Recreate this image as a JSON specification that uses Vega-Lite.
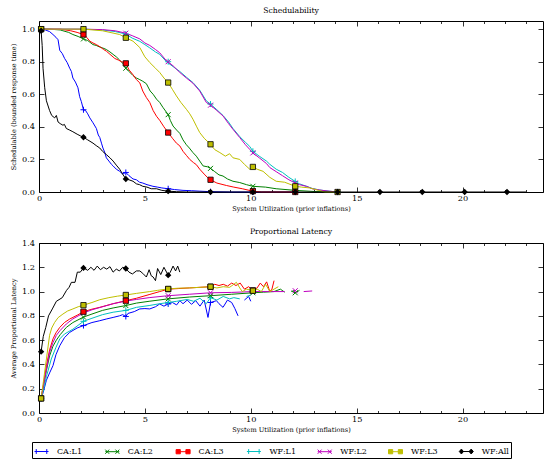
{
"$schema": "https://vega.github.io/schema/vega-lite/v6.json",
"padding": {"left": 9, "top": 6, "right": 0, "bottom": 0},
"spacing": 14,
"config": {
 "font": "DejaVu Serif",
 "view": {"stroke": "black", "strokeWidth": 1},
 "axis": {"labelFont": "DejaVu Serif", "labelFontSize": 8.2, "labelColor": "black", "titleFont": "DejaVu Serif", "titleFontSize": 6.6, "titleFontWeight": "normal", "titleColor": "black", "domain": false, "grid": false, "tickColor": "black", "tickWidth": 0.8},
 "title": {"font": "DejaVu Serif", "fontSize": 7.7, "fontWeight": "normal", "color": "black", "offset": 6, "anchor": "middle"},
 "legend": {"orient": "none", "legendX": -7, "legendY": 421, "direction": "horizontal", "columns": 7, "gridAlign": "all", "columnPadding": 17.8, "padding": 2, "strokeColor": "black", "labelFont": "DejaVu Serif", "labelFontSize": 8, "labelColor": "black", "symbolSize": 196, "symbolStrokeWidth": 1, "labelOffset": 8, "symbolFillColor": "transparent", "symbolOpacity": 1}
},
"datasets": {
 "sl": [
  {"s":"CA:L1","x":0.1,"y":1.0},{"s":"CA:L1","x":0.3,"y":0.995},{"s":"CA:L1","x":0.5,"y":0.985},{"s":"CA:L1","x":0.66,"y":0.967},{"s":"CA:L1","x":0.8,"y":0.95},{"s":"CA:L1","x":0.9,"y":0.935},{"s":"CA:L1","x":0.98,"y":0.87},{"s":"CA:L1","x":1.1,"y":0.85},{"s":"CA:L1","x":1.21,"y":0.82},{"s":"CA:L1","x":1.33,"y":0.795},{"s":"CA:L1","x":1.45,"y":0.76},{"s":"CA:L1","x":1.53,"y":0.74},{"s":"CA:L1","x":1.6,"y":0.7},{"s":"CA:L1","x":1.72,"y":0.675},{"s":"CA:L1","x":1.84,"y":0.64},{"s":"CA:L1","x":1.92,"y":0.585},{"s":"CA:L1","x":2.0,"y":0.555},{"s":"CA:L1","x":2.1,"y":0.505},{"s":"CA:L1","x":2.2,"y":0.5},{"s":"CA:L1","x":2.3,"y":0.48},{"s":"CA:L1","x":2.4,"y":0.455},{"s":"CA:L1","x":2.55,"y":0.425},{"s":"CA:L1","x":2.71,"y":0.39},{"s":"CA:L1","x":2.8,"y":0.35},{"s":"CA:L1","x":2.87,"y":0.335},{"s":"CA:L1","x":2.95,"y":0.3},{"s":"CA:L1","x":3.02,"y":0.27},{"s":"CA:L1","x":3.1,"y":0.245},{"s":"CA:L1","x":3.18,"y":0.21},{"s":"CA:L1","x":3.3,"y":0.19},{"s":"CA:L1","x":3.42,"y":0.17},{"s":"CA:L1","x":3.5,"y":0.16},{"s":"CA:L1","x":3.65,"y":0.14},{"s":"CA:L1","x":3.81,"y":0.127},{"s":"CA:L1","x":3.95,"y":0.11},{"s":"CA:L1","x":4.1,"y":0.12},{"s":"CA:L1","x":4.25,"y":0.1},{"s":"CA:L1","x":4.44,"y":0.08},{"s":"CA:L1","x":4.6,"y":0.075},{"s":"CA:L1","x":4.75,"y":0.06},{"s":"CA:L1","x":4.9,"y":0.055},{"s":"CA:L1","x":5.1,"y":0.045},{"s":"CA:L1","x":5.38,"y":0.035},{"s":"CA:L1","x":5.6,"y":0.03},{"s":"CA:L1","x":5.8,"y":0.025},{"s":"CA:L1","x":6.1,"y":0.02},{"s":"CA:L1","x":6.4,"y":0.015},{"s":"CA:L1","x":6.8,"y":0.01},{"s":"CA:L1","x":7.2,"y":0.008},{"s":"CA:L1","x":7.6,"y":0.005},{"s":"CA:L1","x":8.1,"y":0.002},{"s":"CA:L1","x":9.0,"y":0},{"s":"CA:L1","x":12.1,"y":0},
  {"s":"CA:L2","x":0.1,"y":1.0},{"s":"CA:L2","x":0.5,"y":1.0},{"s":"CA:L2","x":1.0,"y":0.995},{"s":"CA:L2","x":1.13,"y":0.99},{"s":"CA:L2","x":1.4,"y":0.98},{"s":"CA:L2","x":1.6,"y":0.967},{"s":"CA:L2","x":1.85,"y":0.955},{"s":"CA:L2","x":2.1,"y":0.94},{"s":"CA:L2","x":2.3,"y":0.93},{"s":"CA:L2","x":2.55,"y":0.905},{"s":"CA:L2","x":2.7,"y":0.9},{"s":"CA:L2","x":2.87,"y":0.89},{"s":"CA:L2","x":3.0,"y":0.885},{"s":"CA:L2","x":3.18,"y":0.875},{"s":"CA:L2","x":3.35,"y":0.86},{"s":"CA:L2","x":3.5,"y":0.845},{"s":"CA:L2","x":3.65,"y":0.83},{"s":"CA:L2","x":3.81,"y":0.81},{"s":"CA:L2","x":3.95,"y":0.79},{"s":"CA:L2","x":4.1,"y":0.76},{"s":"CA:L2","x":4.25,"y":0.74},{"s":"CA:L2","x":4.44,"y":0.715},{"s":"CA:L2","x":4.6,"y":0.7},{"s":"CA:L2","x":4.76,"y":0.69},{"s":"CA:L2","x":4.9,"y":0.68},{"s":"CA:L2","x":5.07,"y":0.665},{"s":"CA:L2","x":5.25,"y":0.62},{"s":"CA:L2","x":5.39,"y":0.6},{"s":"CA:L2","x":5.55,"y":0.57},{"s":"CA:L2","x":5.7,"y":0.55},{"s":"CA:L2","x":5.85,"y":0.52},{"s":"CA:L2","x":6.1,"y":0.475},{"s":"CA:L2","x":6.2,"y":0.44},{"s":"CA:L2","x":6.33,"y":0.405},{"s":"CA:L2","x":6.5,"y":0.38},{"s":"CA:L2","x":6.65,"y":0.36},{"s":"CA:L2","x":6.8,"y":0.32},{"s":"CA:L2","x":6.96,"y":0.29},{"s":"CA:L2","x":7.1,"y":0.27},{"s":"CA:L2","x":7.27,"y":0.242},{"s":"CA:L2","x":7.43,"y":0.22},{"s":"CA:L2","x":7.59,"y":0.19},{"s":"CA:L2","x":7.75,"y":0.16},{"s":"CA:L2","x":7.95,"y":0.155},{"s":"CA:L2","x":8.1,"y":0.145},{"s":"CA:L2","x":8.3,"y":0.125},{"s":"CA:L2","x":8.5,"y":0.105},{"s":"CA:L2","x":8.69,"y":0.098},{"s":"CA:L2","x":8.9,"y":0.08},{"s":"CA:L2","x":9.16,"y":0.066},{"s":"CA:L2","x":9.48,"y":0.058},{"s":"CA:L2","x":9.8,"y":0.045},{"s":"CA:L2","x":10.1,"y":0.035},{"s":"CA:L2","x":10.7,"y":0.03},{"s":"CA:L2","x":11.2,"y":0.02},{"s":"CA:L2","x":12.1,"y":0.01},{"s":"CA:L2","x":13.0,"y":0.003},{"s":"CA:L2","x":14.1,"y":0},
  {"s":"CA:L3","x":0.1,"y":1.0},{"s":"CA:L3","x":1.0,"y":1.0},{"s":"CA:L3","x":1.5,"y":0.99},{"s":"CA:L3","x":1.8,"y":0.98},{"s":"CA:L3","x":2.1,"y":0.967},{"s":"CA:L3","x":2.25,"y":0.95},{"s":"CA:L3","x":2.4,"y":0.926},{"s":"CA:L3","x":2.55,"y":0.915},{"s":"CA:L3","x":2.71,"y":0.905},{"s":"CA:L3","x":2.9,"y":0.89},{"s":"CA:L3","x":3.05,"y":0.875},{"s":"CA:L3","x":3.18,"y":0.865},{"s":"CA:L3","x":3.4,"y":0.84},{"s":"CA:L3","x":3.58,"y":0.82},{"s":"CA:L3","x":3.75,"y":0.81},{"s":"CA:L3","x":3.9,"y":0.8},{"s":"CA:L3","x":4.1,"y":0.79},{"s":"CA:L3","x":4.25,"y":0.75},{"s":"CA:L3","x":4.44,"y":0.72},{"s":"CA:L3","x":4.6,"y":0.69},{"s":"CA:L3","x":4.76,"y":0.67},{"s":"CA:L3","x":4.9,"y":0.62},{"s":"CA:L3","x":5.07,"y":0.58},{"s":"CA:L3","x":5.23,"y":0.55},{"s":"CA:L3","x":5.39,"y":0.5},{"s":"CA:L3","x":5.55,"y":0.465},{"s":"CA:L3","x":5.7,"y":0.44},{"s":"CA:L3","x":5.9,"y":0.4},{"s":"CA:L3","x":6.1,"y":0.365},{"s":"CA:L3","x":6.3,"y":0.33},{"s":"CA:L3","x":6.49,"y":0.3},{"s":"CA:L3","x":6.65,"y":0.283},{"s":"CA:L3","x":6.8,"y":0.25},{"s":"CA:L3","x":6.96,"y":0.225},{"s":"CA:L3","x":7.12,"y":0.2},{"s":"CA:L3","x":7.3,"y":0.18},{"s":"CA:L3","x":7.43,"y":0.168},{"s":"CA:L3","x":7.59,"y":0.14},{"s":"CA:L3","x":7.8,"y":0.11},{"s":"CA:L3","x":7.95,"y":0.09},{"s":"CA:L3","x":8.1,"y":0.075},{"s":"CA:L3","x":8.4,"y":0.055},{"s":"CA:L3","x":8.85,"y":0.04},{"s":"CA:L3","x":9.2,"y":0.03},{"s":"CA:L3","x":9.6,"y":0.02},{"s":"CA:L3","x":10.1,"y":0.005},{"s":"CA:L3","x":10.5,"y":0},{"s":"CA:L3","x":12.1,"y":0},
  {"s":"WF:L1","x":0.1,"y":1.0},{"s":"WF:L1","x":2.1,"y":1.0},{"s":"WF:L1","x":3.0,"y":0.995},{"s":"WF:L1","x":3.6,"y":0.985},{"s":"WF:L1","x":4.1,"y":0.97},{"s":"WF:L1","x":4.4,"y":0.945},{"s":"WF:L1","x":4.76,"y":0.925},{"s":"WF:L1","x":5.0,"y":0.905},{"s":"WF:L1","x":5.23,"y":0.885},{"s":"WF:L1","x":5.5,"y":0.86},{"s":"WF:L1","x":5.7,"y":0.845},{"s":"WF:L1","x":6.02,"y":0.8},{"s":"WF:L1","x":6.33,"y":0.77},{"s":"WF:L1","x":6.65,"y":0.74},{"s":"WF:L1","x":6.96,"y":0.705},{"s":"WF:L1","x":7.27,"y":0.672},{"s":"WF:L1","x":7.59,"y":0.625},{"s":"WF:L1","x":7.9,"y":0.56},{"s":"WF:L1","x":8.1,"y":0.54},{"s":"WF:L1","x":8.4,"y":0.505},{"s":"WF:L1","x":8.69,"y":0.47},{"s":"WF:L1","x":8.95,"y":0.43},{"s":"WF:L1","x":9.16,"y":0.39},{"s":"WF:L1","x":9.48,"y":0.34},{"s":"WF:L1","x":9.75,"y":0.305},{"s":"WF:L1","x":9.95,"y":0.28},{"s":"WF:L1","x":10.1,"y":0.25},{"s":"WF:L1","x":10.4,"y":0.22},{"s":"WF:L1","x":10.74,"y":0.19},{"s":"WF:L1","x":10.9,"y":0.17},{"s":"WF:L1","x":11.2,"y":0.14},{"s":"WF:L1","x":11.5,"y":0.12},{"s":"WF:L1","x":11.8,"y":0.09},{"s":"WF:L1","x":12.1,"y":0.065},{"s":"WF:L1","x":12.3,"y":0.05},{"s":"WF:L1","x":12.63,"y":0.035},{"s":"WF:L1","x":12.9,"y":0.022},{"s":"WF:L1","x":13.26,"y":0.012},{"s":"WF:L1","x":13.7,"y":0.005},{"s":"WF:L1","x":14.1,"y":0},
  {"s":"WF:L2","x":0.1,"y":1.0},{"s":"WF:L2","x":2.1,"y":1.0},{"s":"WF:L2","x":3.0,"y":0.997},{"s":"WF:L2","x":3.6,"y":0.99},{"s":"WF:L2","x":4.1,"y":0.975},{"s":"WF:L2","x":4.4,"y":0.96},{"s":"WF:L2","x":4.76,"y":0.94},{"s":"WF:L2","x":5.0,"y":0.915},{"s":"WF:L2","x":5.23,"y":0.9},{"s":"WF:L2","x":5.5,"y":0.875},{"s":"WF:L2","x":5.7,"y":0.855},{"s":"WF:L2","x":6.02,"y":0.805},{"s":"WF:L2","x":6.33,"y":0.775},{"s":"WF:L2","x":6.65,"y":0.734},{"s":"WF:L2","x":6.96,"y":0.7},{"s":"WF:L2","x":7.27,"y":0.668},{"s":"WF:L2","x":7.59,"y":0.62},{"s":"WF:L2","x":7.9,"y":0.55},{"s":"WF:L2","x":8.1,"y":0.533},{"s":"WF:L2","x":8.4,"y":0.5},{"s":"WF:L2","x":8.69,"y":0.467},{"s":"WF:L2","x":8.95,"y":0.42},{"s":"WF:L2","x":9.16,"y":0.385},{"s":"WF:L2","x":9.48,"y":0.334},{"s":"WF:L2","x":9.75,"y":0.29},{"s":"WF:L2","x":9.95,"y":0.262},{"s":"WF:L2","x":10.1,"y":0.24},{"s":"WF:L2","x":10.4,"y":0.21},{"s":"WF:L2","x":10.74,"y":0.175},{"s":"WF:L2","x":10.9,"y":0.15},{"s":"WF:L2","x":11.2,"y":0.125},{"s":"WF:L2","x":11.5,"y":0.1},{"s":"WF:L2","x":11.8,"y":0.075},{"s":"WF:L2","x":12.1,"y":0.055},{"s":"WF:L2","x":12.3,"y":0.045},{"s":"WF:L2","x":12.63,"y":0.035},{"s":"WF:L2","x":12.9,"y":0.02},{"s":"WF:L2","x":13.26,"y":0.012},{"s":"WF:L2","x":13.7,"y":0.005},{"s":"WF:L2","x":14.1,"y":0},
  {"s":"WF:L3","x":0.1,"y":1.0},{"s":"WF:L3","x":2.1,"y":1.0},{"s":"WF:L3","x":3.0,"y":0.99},{"s":"WF:L3","x":3.81,"y":0.967},{"s":"WF:L3","x":4.1,"y":0.947},{"s":"WF:L3","x":4.44,"y":0.926},{"s":"WF:L3","x":4.76,"y":0.887},{"s":"WF:L3","x":5.0,"y":0.83},{"s":"WF:L3","x":5.23,"y":0.795},{"s":"WF:L3","x":5.5,"y":0.76},{"s":"WF:L3","x":5.7,"y":0.734},{"s":"WF:L3","x":5.9,"y":0.7},{"s":"WF:L3","x":6.1,"y":0.672},{"s":"WF:L3","x":6.3,"y":0.63},{"s":"WF:L3","x":6.49,"y":0.59},{"s":"WF:L3","x":6.7,"y":0.55},{"s":"WF:L3","x":6.96,"y":0.508},{"s":"WF:L3","x":7.12,"y":0.48},{"s":"WF:L3","x":7.27,"y":0.447},{"s":"WF:L3","x":7.45,"y":0.4},{"s":"WF:L3","x":7.59,"y":0.365},{"s":"WF:L3","x":7.8,"y":0.33},{"s":"WF:L3","x":8.1,"y":0.293},{"s":"WF:L3","x":8.3,"y":0.26},{"s":"WF:L3","x":8.54,"y":0.242},{"s":"WF:L3","x":8.8,"y":0.22},{"s":"WF:L3","x":9.0,"y":0.235},{"s":"WF:L3","x":9.16,"y":0.21},{"s":"WF:L3","x":9.48,"y":0.2},{"s":"WF:L3","x":9.7,"y":0.17},{"s":"WF:L3","x":9.95,"y":0.14},{"s":"WF:L3","x":10.1,"y":0.154},{"s":"WF:L3","x":10.3,"y":0.14},{"s":"WF:L3","x":10.58,"y":0.127},{"s":"WF:L3","x":10.9,"y":0.09},{"s":"WF:L3","x":11.2,"y":0.066},{"s":"WF:L3","x":11.6,"y":0.06},{"s":"WF:L3","x":12.1,"y":0.035},{"s":"WF:L3","x":12.4,"y":0.03},{"s":"WF:L3","x":12.79,"y":0.025},{"s":"WF:L3","x":13.2,"y":0.01},{"s":"WF:L3","x":13.5,"y":0},{"s":"WF:L3","x":14.1,"y":0},
  {"s":"WF:All","x":0.1,"y":0.99},{"s":"WF:All","x":0.15,"y":0.9},{"s":"WF:All","x":0.19,"y":0.76},{"s":"WF:All","x":0.27,"y":0.64},{"s":"WF:All","x":0.35,"y":0.56},{"s":"WF:All","x":0.5,"y":0.5},{"s":"WF:All","x":0.6,"y":0.47},{"s":"WF:All","x":0.74,"y":0.455},{"s":"WF:All","x":0.82,"y":0.47},{"s":"WF:All","x":0.9,"y":0.43},{"s":"WF:All","x":1.0,"y":0.42},{"s":"WF:All","x":1.13,"y":0.41},{"s":"WF:All","x":1.2,"y":0.415},{"s":"WF:All","x":1.29,"y":0.39},{"s":"WF:All","x":1.45,"y":0.38},{"s":"WF:All","x":1.6,"y":0.37},{"s":"WF:All","x":1.8,"y":0.355},{"s":"WF:All","x":1.95,"y":0.345},{"s":"WF:All","x":2.1,"y":0.336},{"s":"WF:All","x":2.3,"y":0.32},{"s":"WF:All","x":2.55,"y":0.3},{"s":"WF:All","x":2.7,"y":0.285},{"s":"WF:All","x":2.87,"y":0.27},{"s":"WF:All","x":3.0,"y":0.25},{"s":"WF:All","x":3.18,"y":0.23},{"s":"WF:All","x":3.35,"y":0.21},{"s":"WF:All","x":3.5,"y":0.19},{"s":"WF:All","x":3.65,"y":0.165},{"s":"WF:All","x":3.81,"y":0.14},{"s":"WF:All","x":3.95,"y":0.11},{"s":"WF:All","x":4.1,"y":0.08},{"s":"WF:All","x":4.25,"y":0.075},{"s":"WF:All","x":4.44,"y":0.066},{"s":"WF:All","x":4.6,"y":0.05},{"s":"WF:All","x":4.75,"y":0.045},{"s":"WF:All","x":4.9,"y":0.035},{"s":"WF:All","x":5.1,"y":0.03},{"s":"WF:All","x":5.3,"y":0.02},{"s":"WF:All","x":5.55,"y":0.02},{"s":"WF:All","x":5.8,"y":0.01},{"s":"WF:All","x":6.1,"y":0.005},{"s":"WF:All","x":6.5,"y":0.002},{"s":"WF:All","x":7.0,"y":0},{"s":"WF:All","x":23.0,"y":0}
 ],
 "sm": [
  {"s":"CA:L1","x":0.1,"y":1.0},{"s":"CA:L1","x":2.1,"y":0.505},{"s":"CA:L1","x":4.1,"y":0.12},{"s":"CA:L1","x":6.1,"y":0.02},{"s":"CA:L1","x":8.1,"y":0.002},{"s":"CA:L1","x":10.1,"y":0},{"s":"CA:L1","x":12.1,"y":0},
  {"s":"CA:L2","x":0.1,"y":1.0},{"s":"CA:L2","x":2.1,"y":0.94},{"s":"CA:L2","x":4.1,"y":0.76},{"s":"CA:L2","x":6.1,"y":0.475},{"s":"CA:L2","x":8.1,"y":0.145},{"s":"CA:L2","x":10.1,"y":0.035},{"s":"CA:L2","x":12.1,"y":0.01},
  {"s":"CA:L3","x":0.1,"y":1.0},{"s":"CA:L3","x":2.1,"y":0.967},{"s":"CA:L3","x":4.1,"y":0.79},{"s":"CA:L3","x":6.1,"y":0.365},{"s":"CA:L3","x":8.1,"y":0.075},{"s":"CA:L3","x":10.1,"y":0.005},{"s":"CA:L3","x":12.1,"y":0},
  {"s":"WF:L1","x":0.1,"y":1.0},{"s":"WF:L1","x":2.1,"y":1.0},{"s":"WF:L1","x":4.1,"y":0.97},{"s":"WF:L1","x":6.1,"y":0.8},{"s":"WF:L1","x":8.1,"y":0.54},{"s":"WF:L1","x":10.1,"y":0.25},{"s":"WF:L1","x":12.1,"y":0.065},{"s":"WF:L1","x":14.1,"y":0},
  {"s":"WF:L2","x":0.1,"y":1.0},{"s":"WF:L2","x":2.1,"y":1.0},{"s":"WF:L2","x":4.1,"y":0.975},{"s":"WF:L2","x":6.1,"y":0.8},{"s":"WF:L2","x":8.1,"y":0.533},{"s":"WF:L2","x":10.1,"y":0.24},{"s":"WF:L2","x":12.1,"y":0.055},{"s":"WF:L2","x":14.1,"y":0},
  {"s":"WF:L3","x":0.1,"y":1.0},{"s":"WF:L3","x":2.1,"y":1.0},{"s":"WF:L3","x":4.1,"y":0.947},{"s":"WF:L3","x":6.1,"y":0.672},{"s":"WF:L3","x":8.1,"y":0.293},{"s":"WF:L3","x":10.1,"y":0.154},{"s":"WF:L3","x":12.1,"y":0.035},{"s":"WF:L3","x":14.1,"y":0},
  {"s":"WF:All","x":0.1,"y":0.99},{"s":"WF:All","x":2.1,"y":0.336},{"s":"WF:All","x":4.1,"y":0.08},{"s":"WF:All","x":6.1,"y":0.005},{"s":"WF:All","x":8.1,"y":0},{"s":"WF:All","x":10.1,"y":0},{"s":"WF:All","x":12.1,"y":0},{"s":"WF:All","x":14.1,"y":0},{"s":"WF:All","x":16.1,"y":0},{"s":"WF:All","x":18.1,"y":0},{"s":"WF:All","x":20.1,"y":0},{"s":"WF:All","x":22.1,"y":0}
 ],
 "ll": [
  {"s":"CA:L1","x":0.1,"y":0.12},{"s":"CA:L1","x":0.2,"y":0.17},{"s":"CA:L1","x":0.35,"y":0.27},{"s":"CA:L1","x":0.5,"y":0.33},{"s":"CA:L1","x":0.66,"y":0.39},{"s":"CA:L1","x":0.8,"y":0.48},{"s":"CA:L1","x":0.98,"y":0.554},{"s":"CA:L1","x":1.2,"y":0.62},{"s":"CA:L1","x":1.45,"y":0.664},{"s":"CA:L1","x":1.8,"y":0.7},{"s":"CA:L1","x":2.1,"y":0.72},{"s":"CA:L1","x":2.5,"y":0.745},{"s":"CA:L1","x":2.87,"y":0.76},{"s":"CA:L1","x":3.2,"y":0.775},{"s":"CA:L1","x":3.5,"y":0.787},{"s":"CA:L1","x":3.8,"y":0.8},{"s":"CA:L1","x":3.95,"y":0.81},{"s":"CA:L1","x":4.1,"y":0.795},{"s":"CA:L1","x":4.2,"y":0.82},{"s":"CA:L1","x":4.5,"y":0.835},{"s":"CA:L1","x":4.76,"y":0.857},{"s":"CA:L1","x":5.0,"y":0.86},{"s":"CA:L1","x":5.23,"y":0.857},{"s":"CA:L1","x":5.5,"y":0.875},{"s":"CA:L1","x":5.7,"y":0.898},{"s":"CA:L1","x":5.9,"y":0.88},{"s":"CA:L1","x":6.1,"y":0.898},{"s":"CA:L1","x":6.3,"y":0.91},{"s":"CA:L1","x":6.5,"y":0.89},{"s":"CA:L1","x":6.65,"y":0.925},{"s":"CA:L1","x":6.8,"y":0.9},{"s":"CA:L1","x":7.0,"y":0.93},{"s":"CA:L1","x":7.2,"y":0.895},{"s":"CA:L1","x":7.4,"y":0.925},{"s":"CA:L1","x":7.6,"y":0.88},{"s":"CA:L1","x":7.8,"y":0.93},{"s":"CA:L1","x":7.98,"y":0.787},{"s":"CA:L1","x":8.1,"y":0.91},{"s":"CA:L1","x":8.38,"y":0.925},{"s":"CA:L1","x":8.5,"y":0.9},{"s":"CA:L1","x":8.69,"y":0.87},{"s":"CA:L1","x":8.9,"y":0.93},{"s":"CA:L1","x":9.1,"y":0.91},{"s":"CA:L1","x":9.25,"y":0.86},{"s":"CA:L1","x":9.4,"y":0.8},{"s":"CA:L1","x":9.55,"y":null},{"s":"CA:L1","x":9.7,"y":0.93},{"s":"CA:L1","x":9.9,"y":0.96},{"s":"CA:L1","x":10.0,"y":0.92},
  {"s":"CA:L2","x":0.1,"y":0.12},{"s":"CA:L2","x":0.2,"y":0.21},{"s":"CA:L2","x":0.35,"y":0.35},{"s":"CA:L2","x":0.5,"y":0.47},{"s":"CA:L2","x":0.66,"y":0.55},{"s":"CA:L2","x":0.82,"y":0.6},{"s":"CA:L2","x":1.0,"y":0.645},{"s":"CA:L2","x":1.29,"y":0.705},{"s":"CA:L2","x":1.6,"y":0.745},{"s":"CA:L2","x":2.1,"y":0.79},{"s":"CA:L2","x":2.5,"y":0.815},{"s":"CA:L2","x":3.0,"y":0.845},{"s":"CA:L2","x":3.5,"y":0.865},{"s":"CA:L2","x":4.1,"y":0.885},{"s":"CA:L2","x":4.6,"y":0.905},{"s":"CA:L2","x":5.2,"y":0.92},{"s":"CA:L2","x":6.1,"y":0.94},{"s":"CA:L2","x":7.1,"y":0.955},{"s":"CA:L2","x":8.1,"y":0.966},{"s":"CA:L2","x":9.1,"y":0.978},{"s":"CA:L2","x":10.1,"y":0.99},{"s":"CA:L2","x":10.6,"y":0.995},{"s":"CA:L2","x":11.1,"y":1.0},{"s":"CA:L2","x":11.4,"y":1.02},{"s":"CA:L2","x":11.6,"y":0.995},{"s":"CA:L2","x":11.75,"y":null},{"s":"CA:L2","x":11.9,"y":1.005},{"s":"CA:L2","x":12.1,"y":0.99},{"s":"CA:L2","x":12.3,"y":1.01},
  {"s":"CA:L3","x":0.1,"y":0.12},{"s":"CA:L3","x":0.2,"y":0.22},{"s":"CA:L3","x":0.35,"y":0.39},{"s":"CA:L3","x":0.5,"y":0.52},{"s":"CA:L3","x":0.66,"y":0.61},{"s":"CA:L3","x":0.8,"y":0.66},{"s":"CA:L3","x":0.98,"y":0.705},{"s":"CA:L3","x":1.2,"y":0.745},{"s":"CA:L3","x":1.45,"y":0.774},{"s":"CA:L3","x":1.8,"y":0.805},{"s":"CA:L3","x":2.1,"y":0.834},{"s":"CA:L3","x":2.5,"y":0.855},{"s":"CA:L3","x":2.87,"y":0.87},{"s":"CA:L3","x":3.5,"y":0.9},{"s":"CA:L3","x":4.1,"y":0.925},{"s":"CA:L3","x":4.6,"y":0.945},{"s":"CA:L3","x":5.2,"y":0.975},{"s":"CA:L3","x":5.7,"y":1.0},{"s":"CA:L3","x":6.1,"y":1.02},{"s":"CA:L3","x":6.6,"y":1.025},{"s":"CA:L3","x":7.1,"y":1.03},{"s":"CA:L3","x":7.6,"y":1.035},{"s":"CA:L3","x":8.1,"y":1.04},{"s":"CA:L3","x":8.3,"y":1.06},{"s":"CA:L3","x":8.5,"y":1.05},{"s":"CA:L3","x":8.7,"y":1.06},{"s":"CA:L3","x":8.9,"y":1.045},{"s":"CA:L3","x":9.1,"y":1.07},{"s":"CA:L3","x":9.3,"y":1.05},{"s":"CA:L3","x":9.5,"y":1.07},{"s":"CA:L3","x":9.7,"y":1.02},{"s":"CA:L3","x":9.9,"y":1.04},{"s":"CA:L3","x":10.1,"y":1.01},{"s":"CA:L3","x":10.3,"y":1.03},{"s":"CA:L3","x":10.45,"y":1.07},{"s":"CA:L3","x":10.6,"y":1.04},{"s":"CA:L3","x":10.75,"y":1.08},{"s":"CA:L3","x":10.9,"y":1.0},{"s":"CA:L3","x":11.0,"y":1.02},{"s":"CA:L3","x":11.1,"y":1.09},
  {"s":"WF:L1","x":0.1,"y":0.12},{"s":"WF:L1","x":0.2,"y":0.18},{"s":"WF:L1","x":0.35,"y":0.3},{"s":"WF:L1","x":0.58,"y":0.445},{"s":"WF:L1","x":0.8,"y":0.54},{"s":"WF:L1","x":0.98,"y":0.61},{"s":"WF:L1","x":1.2,"y":0.65},{"s":"WF:L1","x":1.6,"y":0.69},{"s":"WF:L1","x":2.1,"y":0.755},{"s":"WF:L1","x":2.5,"y":0.78},{"s":"WF:L1","x":3.0,"y":0.81},{"s":"WF:L1","x":3.5,"y":0.83},{"s":"WF:L1","x":4.1,"y":0.845},{"s":"WF:L1","x":4.6,"y":0.87},{"s":"WF:L1","x":5.2,"y":0.885},{"s":"WF:L1","x":5.7,"y":0.9},{"s":"WF:L1","x":6.1,"y":0.91},{"s":"WF:L1","x":6.5,"y":0.92},{"s":"WF:L1","x":7.0,"y":0.935},{"s":"WF:L1","x":7.3,"y":0.92},{"s":"WF:L1","x":7.6,"y":0.945},{"s":"WF:L1","x":7.9,"y":0.9},{"s":"WF:L1","x":8.1,"y":0.95},{"s":"WF:L1","x":8.4,"y":0.93},{"s":"WF:L1","x":8.7,"y":0.96},{"s":"WF:L1","x":9.0,"y":0.94},{"s":"WF:L1","x":9.2,"y":0.95},{"s":"WF:L1","x":9.48,"y":0.94},{"s":"WF:L1","x":9.6,"y":null},{"s":"WF:L1","x":9.8,"y":0.96},{"s":"WF:L1","x":10.0,"y":0.97},
  {"s":"WF:L2","x":0.1,"y":0.12},{"s":"WF:L2","x":0.2,"y":0.22},{"s":"WF:L2","x":0.35,"y":0.36},{"s":"WF:L2","x":0.5,"y":0.5},{"s":"WF:L2","x":0.66,"y":0.58},{"s":"WF:L2","x":0.82,"y":0.64},{"s":"WF:L2","x":1.0,"y":0.68},{"s":"WF:L2","x":1.29,"y":0.733},{"s":"WF:L2","x":1.6,"y":0.775},{"s":"WF:L2","x":2.1,"y":0.824},{"s":"WF:L2","x":2.5,"y":0.85},{"s":"WF:L2","x":3.0,"y":0.875},{"s":"WF:L2","x":3.5,"y":0.9},{"s":"WF:L2","x":4.1,"y":0.922},{"s":"WF:L2","x":4.6,"y":0.935},{"s":"WF:L2","x":5.2,"y":0.95},{"s":"WF:L2","x":6.1,"y":0.966},{"s":"WF:L2","x":7.1,"y":0.978},{"s":"WF:L2","x":8.1,"y":0.99},{"s":"WF:L2","x":9.1,"y":0.993},{"s":"WF:L2","x":10.1,"y":1.0},{"s":"WF:L2","x":11.1,"y":1.0},{"s":"WF:L2","x":11.6,"y":1.0},{"s":"WF:L2","x":11.8,"y":null},{"s":"WF:L2","x":12.0,"y":1.01},{"s":"WF:L2","x":12.1,"y":1.007},{"s":"WF:L2","x":12.2,"y":null},{"s":"WF:L2","x":12.5,"y":1.0},{"s":"WF:L2","x":12.9,"y":1.005},
  {"s":"WF:L3","x":0.1,"y":0.12},{"s":"WF:L3","x":0.2,"y":0.25},{"s":"WF:L3","x":0.35,"y":0.445},{"s":"WF:L3","x":0.5,"y":0.64},{"s":"WF:L3","x":0.6,"y":0.7},{"s":"WF:L3","x":0.74,"y":0.746},{"s":"WF:L3","x":0.9,"y":0.785},{"s":"WF:L3","x":1.13,"y":0.815},{"s":"WF:L3","x":1.35,"y":0.84},{"s":"WF:L3","x":1.6,"y":0.857},{"s":"WF:L3","x":1.85,"y":0.875},{"s":"WF:L3","x":2.1,"y":0.888},{"s":"WF:L3","x":2.5,"y":0.91},{"s":"WF:L3","x":2.87,"y":0.933},{"s":"WF:L3","x":3.3,"y":0.95},{"s":"WF:L3","x":3.7,"y":0.962},{"s":"WF:L3","x":4.1,"y":0.972},{"s":"WF:L3","x":4.6,"y":0.985},{"s":"WF:L3","x":5.23,"y":1.0},{"s":"WF:L3","x":5.6,"y":1.01},{"s":"WF:L3","x":6.1,"y":1.022},{"s":"WF:L3","x":6.6,"y":1.028},{"s":"WF:L3","x":7.1,"y":1.03},{"s":"WF:L3","x":7.6,"y":1.035},{"s":"WF:L3","x":8.1,"y":1.04},{"s":"WF:L3","x":8.4,"y":1.03},{"s":"WF:L3","x":8.7,"y":1.04},{"s":"WF:L3","x":9.0,"y":1.035},{"s":"WF:L3","x":9.2,"y":1.06},{"s":"WF:L3","x":9.32,"y":1.076},{"s":"WF:L3","x":9.48,"y":1.03},{"s":"WF:L3","x":9.6,"y":1.0},{"s":"WF:L3","x":9.8,"y":1.02},{"s":"WF:L3","x":10.1,"y":1.007},{"s":"WF:L3","x":10.3,"y":1.02},{"s":"WF:L3","x":10.5,"y":1.0},{"s":"WF:L3","x":10.7,"y":1.06},{"s":"WF:L3","x":10.9,"y":1.0},{"s":"WF:L3","x":11.1,"y":1.02},{"s":"WF:L3","x":11.3,"y":1.04},
  {"s":"WF:All","x":0.1,"y":0.505},{"s":"WF:All","x":0.2,"y":0.63},{"s":"WF:All","x":0.32,"y":0.705},{"s":"WF:All","x":0.45,"y":0.8},{"s":"WF:All","x":0.63,"y":0.857},{"s":"WF:All","x":0.82,"y":0.92},{"s":"WF:All","x":1.1,"y":0.95},{"s":"WF:All","x":1.3,"y":1.01},{"s":"WF:All","x":1.42,"y":1.035},{"s":"WF:All","x":1.53,"y":1.076},{"s":"WF:All","x":1.7,"y":1.076},{"s":"WF:All","x":1.81,"y":1.16},{"s":"WF:All","x":1.95,"y":1.16},{"s":"WF:All","x":2.1,"y":1.195},{"s":"WF:All","x":2.3,"y":1.175},{"s":"WF:All","x":2.45,"y":1.2},{"s":"WF:All","x":2.6,"y":1.175},{"s":"WF:All","x":2.75,"y":1.21},{"s":"WF:All","x":2.9,"y":1.18},{"s":"WF:All","x":3.05,"y":1.2},{"s":"WF:All","x":3.2,"y":1.185},{"s":"WF:All","x":3.35,"y":1.205},{"s":"WF:All","x":3.5,"y":1.16},{"s":"WF:All","x":3.65,"y":1.185},{"s":"WF:All","x":3.8,"y":1.17},{"s":"WF:All","x":3.95,"y":1.2},{"s":"WF:All","x":4.1,"y":1.19},{"s":"WF:All","x":4.25,"y":1.16},{"s":"WF:All","x":4.41,"y":1.145},{"s":"WF:All","x":4.6,"y":1.17},{"s":"WF:All","x":4.76,"y":1.17},{"s":"WF:All","x":4.9,"y":1.15},{"s":"WF:All","x":5.07,"y":1.12},{"s":"WF:All","x":5.2,"y":1.18},{"s":"WF:All","x":5.3,"y":1.13},{"s":"WF:All","x":5.39,"y":1.12},{"s":"WF:All","x":5.5,"y":1.09},{"s":"WF:All","x":5.6,"y":1.19},{"s":"WF:All","x":5.75,"y":1.14},{"s":"WF:All","x":5.9,"y":1.2},{"s":"WF:All","x":6.1,"y":1.135},{"s":"WF:All","x":6.2,"y":1.16},{"s":"WF:All","x":6.33,"y":1.21},{"s":"WF:All","x":6.45,"y":1.17},{"s":"WF:All","x":6.55,"y":1.21},{"s":"WF:All","x":6.65,"y":1.16}
 ],
 "lm": [
  {"s":"CA:L1","x":0.1,"y":0.12},{"s":"CA:L1","x":2.1,"y":0.72},{"s":"CA:L1","x":4.1,"y":0.795},{"s":"CA:L1","x":6.1,"y":0.898},{"s":"CA:L1","x":8.1,"y":0.91},
  {"s":"CA:L2","x":0.1,"y":0.12},{"s":"CA:L2","x":2.1,"y":0.79},{"s":"CA:L2","x":4.1,"y":0.885},{"s":"CA:L2","x":6.1,"y":0.94},{"s":"CA:L2","x":8.1,"y":0.966},{"s":"CA:L2","x":10.1,"y":0.99},{"s":"CA:L2","x":12.1,"y":0.99},
  {"s":"CA:L3","x":0.1,"y":0.12},{"s":"CA:L3","x":2.1,"y":0.834},{"s":"CA:L3","x":4.1,"y":0.925},{"s":"CA:L3","x":6.1,"y":1.02},{"s":"CA:L3","x":8.1,"y":1.04},{"s":"CA:L3","x":10.1,"y":1.01},
  {"s":"WF:L1","x":0.1,"y":0.12},{"s":"WF:L1","x":2.1,"y":0.755},{"s":"WF:L1","x":4.1,"y":0.845},{"s":"WF:L1","x":6.1,"y":0.91},{"s":"WF:L1","x":8.1,"y":0.95},
  {"s":"WF:L2","x":0.1,"y":0.12},{"s":"WF:L2","x":2.1,"y":0.824},{"s":"WF:L2","x":4.1,"y":0.922},{"s":"WF:L2","x":6.1,"y":0.966},{"s":"WF:L2","x":8.1,"y":0.99},{"s":"WF:L2","x":10.1,"y":1.0},{"s":"WF:L2","x":12.1,"y":1.007},
  {"s":"WF:L3","x":0.1,"y":0.12},{"s":"WF:L3","x":2.1,"y":0.888},{"s":"WF:L3","x":4.1,"y":0.972},{"s":"WF:L3","x":6.1,"y":1.022},{"s":"WF:L3","x":8.1,"y":1.04},{"s":"WF:L3","x":10.1,"y":1.007},
  {"s":"WF:All","x":0.1,"y":0.505},{"s":"WF:All","x":2.1,"y":1.195},{"s":"WF:All","x":4.1,"y":1.19},{"s":"WF:All","x":6.1,"y":1.135}
 ]
},
"vconcat": [
 {
  "title": "Schedulability",
  "width": 504, "height": 171,
  "resolve": {"axis": {"x": "independent", "y": "independent"}},
  "layer": [
   {"data": {"name": "sl"}, "mark": {"type": "line", "strokeWidth": 1, "invalid": "break-paths-filter-domains"},
    "encoding": {
     "x": {"field": "x", "type": "quantitative", "scale": {"domain": [0, 23.8], "nice": false, "zero": false}, "axis": {"orient": "bottom", "values": [0, 5, 10, 15, 20], "ticks": false, "labelPadding": 2, "labelFlush": false, "title": "System Utilization (prior inflations)", "titlePadding": 4}},
     "y": {"field": "y", "type": "quantitative", "scale": {"domain": [0, 1.05], "nice": false, "zero": false}, "axis": {"orient": "left", "values": [0, 0.2, 0.4, 0.6, 0.8, 1.0], "format": ".1f", "ticks": false, "labelPadding": 4.5, "title": "Schedulable (bounded response time)", "titlePadding": 5}},
     "color": {"field": "s", "type": "nominal", "scale": {"domain": ["CA:L1","CA:L2","CA:L3","WF:L1","WF:L2","WF:L3","WF:All"], "range": ["#0000ff","#008000","#ff0000","#00bfbf","#bf00bf","#bfbf00","#000000"]}, "legend": {"title": null}}
    }},
   {"data": {"name": "sm"}, "transform": [{"filter": "datum.s==='CA:L1'||datum.s==='WF:L1'"}],
    "mark": {"type": "point", "shape": "M-1,0L1,0M0,-1L0,1", "filled": false, "size": 36, "strokeWidth": 1, "opacity": 1},
    "encoding": {
     "x": {"field": "x", "type": "quantitative", "axis": {"orient": "bottom", "values": [0, 5, 10, 15, 20], "labels": false, "title": null, "tickSize": -5}},
     "y": {"field": "y", "type": "quantitative", "axis": {"orient": "left", "values": [0, 0.2, 0.4, 0.6, 0.8, 1.0], "labels": false, "title": null, "tickSize": -5}},
     "color": {"field": "s", "type": "nominal", "scale": {"domain": ["CA:L1","CA:L2","CA:L3","WF:L1","WF:L2","WF:L3","WF:All"], "range": ["#0000ff","#008000","#ff0000","#00bfbf","#bf00bf","#bfbf00","#000000"]}, "legend": {"title": null}}
    }},
   {"data": {"name": "sm"}, "transform": [{"filter": "datum.s==='CA:L2'||datum.s==='WF:L2'"}],
    "mark": {"type": "point", "shape": "M-1,-1L1,1M-1,1L1,-1", "filled": false, "size": 25, "strokeWidth": 1, "opacity": 1},
    "encoding": {
     "x": {"field": "x", "type": "quantitative", "axis": {"orient": "top", "values": [0, 5, 10, 15, 20], "labels": false, "title": null, "tickSize": -5}},
     "y": {"field": "y", "type": "quantitative", "axis": {"orient": "right", "values": [0, 0.2, 0.4, 0.6, 0.8, 1.0], "labels": false, "title": null, "tickSize": -5}},
     "color": {"field": "s", "type": "nominal", "scale": {"domain": ["CA:L1","CA:L2","CA:L3","WF:L1","WF:L2","WF:L3","WF:All"], "range": ["#0000ff","#008000","#ff0000","#00bfbf","#bf00bf","#bfbf00","#000000"]}, "legend": {"title": null}}
    }},
   {"data": {"name": "sm"}, "transform": [{"filter": "datum.s==='CA:L3'"}],
    "mark": {"type": "point", "shape": "square", "filled": true, "size": 28, "fill": "#ff0000", "stroke": "black", "strokeWidth": 0.8, "opacity": 1},
    "encoding": {
     "x": {"field": "x", "type": "quantitative", "axis": {"orient": "bottom", "values": [1,2,3,4,6,7,8,9,11,12,13,14,16,17,18,19,21,22,23], "labels": false, "title": null, "tickSize": -2.5}},
     "y": {"field": "y", "type": "quantitative", "axis": null}
    }},
   {"data": {"name": "sm"}, "transform": [{"filter": "datum.s==='WF:L3'"}],
    "mark": {"type": "point", "shape": "square", "filled": true, "size": 28, "fill": "#bfbf00", "stroke": "black", "strokeWidth": 0.8, "opacity": 1},
    "encoding": {
     "x": {"field": "x", "type": "quantitative", "axis": null},
     "y": {"field": "y", "type": "quantitative", "axis": null}
    }},
   {"data": {"name": "sm"}, "transform": [{"filter": "datum.s==='WF:All'"}],
    "mark": {"type": "point", "shape": "diamond", "filled": true, "size": 40, "color": "black", "opacity": 1},
    "encoding": {
     "x": {"field": "x", "type": "quantitative", "axis": {"orient": "top", "values": [1,2,3,4,6,7,8,9,11,12,13,14,16,17,18,19,21,22,23], "labels": false, "title": null, "tickSize": -2.5}},
     "y": {"field": "y", "type": "quantitative", "axis": null}
    }},
   {"data": {"name": "sm"}, "transform": [{"filter": "datum.x < -1"}],
    "mark": {"type": "point", "filled": true, "strokeWidth": 1},
    "encoding": {
     "x": {"field": "x", "type": "quantitative", "axis": null},
     "y": {"field": "y", "type": "quantitative", "axis": null},
     "shape": {"field": "s", "type": "nominal", "scale": {"domain": ["CA:L1","CA:L2","CA:L3","WF:L1","WF:L2","WF:L3","WF:All"], "range": ["M-1,0L1,0M-0.75,-0.35L-0.75,0.35M0.75,-0.35L0.75,0.35", "M-1,0L1,0M-1,-0.3L-0.45,0.3M-1,0.3L-0.45,-0.3M0.45,-0.3L1,0.3M0.45,0.3L1,-0.3", "M-0.6,0L0.6,0M-1,-0.3L-0.4,-0.3L-0.4,0.3L-1,0.3ZM0.4,-0.3L1,-0.3L1,0.3L0.4,0.3Z", "M-1,0L1,0M-0.75,-0.35L-0.75,0.35M0.75,-0.35L0.75,0.35", "M-1,0L1,0M-1,-0.3L-0.45,0.3M-1,0.3L-0.45,-0.3M0.45,-0.3L1,0.3M0.45,0.3L1,-0.3", "M-0.6,0L0.6,0M-1,-0.3L-0.4,-0.3L-0.4,0.3L-1,0.3ZM0.4,-0.3L1,-0.3L1,0.3L0.4,0.3Z", "M-0.6,0L0.6,0M-1,0L-0.7,-0.35L-0.4,0L-0.7,0.35ZM0.4,0L0.7,-0.35L1,0L0.7,0.35Z"]}, "legend": {"title": null}},
     "fill": {"field": "s", "type": "nominal", "scale": {"domain": ["CA:L1","CA:L2","CA:L3","WF:L1","WF:L2","WF:L3","WF:All"], "range": ["transparent","transparent","#ff0000","transparent","transparent","#bfbf00","#000000"]}, "legend": {"title": null}}
    }}
  ]
 },
 {
  "title": {"text": "Proportional Latency", "offset": 2},
  "width": 504, "height": 170,
  "resolve": {"axis": {"x": "independent", "y": "independent"}},
  "layer": [
   {"data": {"name": "ll"}, "mark": {"type": "line", "strokeWidth": 1, "invalid": "break-paths-filter-domains"},
    "encoding": {
     "x": {"field": "x", "type": "quantitative", "scale": {"domain": [0, 23.8], "nice": false, "zero": false}, "axis": {"orient": "bottom", "values": [0, 5, 10, 15, 20], "ticks": false, "labelPadding": 2, "labelFlush": false, "title": "System Utilization (prior inflations)", "titlePadding": 4}},
     "y": {"field": "y", "type": "quantitative", "scale": {"domain": [0, 1.4], "nice": false, "zero": false}, "axis": {"orient": "left", "values": [0, 0.2, 0.4, 0.6, 0.8, 1.0, 1.2, 1.4], "format": ".1f", "ticks": false, "labelPadding": 4.5, "title": "Average Proportional Latency", "titlePadding": 5}},
     "color": {"field": "s", "type": "nominal", "scale": {"domain": ["CA:L1","CA:L2","CA:L3","WF:L1","WF:L2","WF:L3","WF:All"], "range": ["#0000ff","#008000","#ff0000","#00bfbf","#bf00bf","#bfbf00","#000000"]}, "legend": {"title": null}}
    }},
   {"data": {"name": "lm"}, "transform": [{"filter": "datum.s==='CA:L1'||datum.s==='WF:L1'"}],
    "mark": {"type": "point", "shape": "M-1,0L1,0M0,-1L0,1", "filled": false, "size": 36, "strokeWidth": 1, "opacity": 1},
    "encoding": {
     "x": {"field": "x", "type": "quantitative", "axis": {"orient": "bottom", "values": [0, 5, 10, 15, 20], "labels": false, "title": null, "tickSize": -5}},
     "y": {"field": "y", "type": "quantitative", "axis": {"orient": "left", "values": [0, 0.2, 0.4, 0.6, 0.8, 1.0, 1.2, 1.4], "labels": false, "title": null, "tickSize": -5}},
     "color": {"field": "s", "type": "nominal", "scale": {"domain": ["CA:L1","CA:L2","CA:L3","WF:L1","WF:L2","WF:L3","WF:All"], "range": ["#0000ff","#008000","#ff0000","#00bfbf","#bf00bf","#bfbf00","#000000"]}, "legend": {"title": null}}
    }},
   {"data": {"name": "lm"}, "transform": [{"filter": "datum.s==='CA:L2'||datum.s==='WF:L2'"}],
    "mark": {"type": "point", "shape": "M-1,-1L1,1M-1,1L1,-1", "filled": false, "size": 25, "strokeWidth": 1, "opacity": 1},
    "encoding": {
     "x": {"field": "x", "type": "quantitative", "axis": {"orient": "top", "values": [0, 5, 10, 15, 20], "labels": false, "title": null, "tickSize": -5}},
     "y": {"field": "y", "type": "quantitative", "axis": {"orient": "right", "values": [0, 0.2, 0.4, 0.6, 0.8, 1.0, 1.2, 1.4], "labels": false, "title": null, "tickSize": -5}},
     "color": {"field": "s", "type": "nominal", "scale": {"domain": ["CA:L1","CA:L2","CA:L3","WF:L1","WF:L2","WF:L3","WF:All"], "range": ["#0000ff","#008000","#ff0000","#00bfbf","#bf00bf","#bfbf00","#000000"]}, "legend": {"title": null}}
    }},
   {"data": {"name": "lm"}, "transform": [{"filter": "datum.s==='CA:L3'"}],
    "mark": {"type": "point", "shape": "square", "filled": true, "size": 28, "fill": "#ff0000", "stroke": "black", "strokeWidth": 0.8, "opacity": 1},
    "encoding": {
     "x": {"field": "x", "type": "quantitative", "axis": {"orient": "bottom", "values": [1,2,3,4,6,7,8,9,11,12,13,14,16,17,18,19,21,22,23], "labels": false, "title": null, "tickSize": -2.5}},
     "y": {"field": "y", "type": "quantitative", "axis": null}
    }},
   {"data": {"name": "lm"}, "transform": [{"filter": "datum.s==='WF:L3'"}],
    "mark": {"type": "point", "shape": "square", "filled": true, "size": 28, "fill": "#bfbf00", "stroke": "black", "strokeWidth": 0.8, "opacity": 1},
    "encoding": {
     "x": {"field": "x", "type": "quantitative", "axis": null},
     "y": {"field": "y", "type": "quantitative", "axis": null}
    }},
   {"data": {"name": "lm"}, "transform": [{"filter": "datum.s==='WF:All'"}],
    "mark": {"type": "point", "shape": "diamond", "filled": true, "size": 40, "color": "black", "opacity": 1},
    "encoding": {
     "x": {"field": "x", "type": "quantitative", "axis": {"orient": "top", "values": [1,2,3,4,6,7,8,9,11,12,13,14,16,17,18,19,21,22,23], "labels": false, "title": null, "tickSize": -2.5}},
     "y": {"field": "y", "type": "quantitative", "axis": null}
    }}
  ]
 }
]
}
